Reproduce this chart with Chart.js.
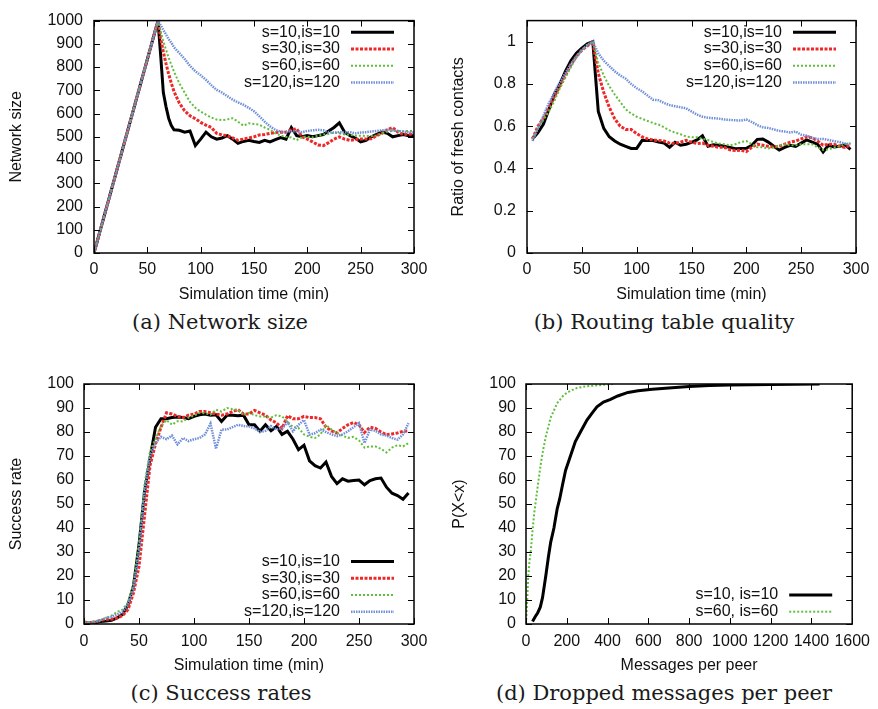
<!DOCTYPE html>
<html>
<head>
<meta charset="utf-8">
<script src="https://cdn.jsdelivr.net/npm/chart.js@4.4.1/dist/chart.umd.min.js"></script>
<style>
  body { margin: 0; background: #fff; width: 878px; height: 709px; position: relative; overflow: hidden; }
  canvas { position: absolute; }
  .cap { position: absolute; width: 400px; text-align: center; font-family: "DejaVu Serif", serif; font-size: 21px; line-height: 24px; color: #1a1a1a; }
</style>
</head>
<body>
<canvas id="cA" width="439" height="310" style="left:0;top:0"></canvas>
<canvas id="cB" width="439" height="310" style="left:439px;top:0"></canvas>
<canvas id="cC" width="439" height="325" style="left:0;top:355px"></canvas>
<canvas id="cD" width="439" height="325" style="left:439px;top:355px"></canvas>
<div class="cap" style="left:20px;top:310px">(a) Network size</div>
<div class="cap" style="left:464px;top:310px">(b) Routing table quality</div>
<div class="cap" style="left:21px;top:681px">(c) Success rates</div>
<div class="cap" style="left:464px;top:681px">(d) Dropped messages per peer</div>
<script>
// ---- data ----
const labels4 = ['s=10,is=10', 's=30,is=30', 's=60,is=60', 's=120,is=120'];
const labels2 = ['s=10, is=10', 's=60, is=60'];

const ticksTime = [0, 50, 100, 150, 200, 250, 300];
const ticksSize = [0, 100, 200, 300, 400, 500, 600, 700, 800, 900, 1000];
const ticksRatio = [0, 0.2, 0.4, 0.6, 0.8, 1];
const ticksPct = [0, 10, 20, 30, 40, 50, 60, 70, 80, 90, 100];
const ticksMsg = [0, 200, 400, 600, 800, 1000, 1200, 1400, 1600];

// (a) network size
const timeA = [0, 60, 62.5, 65, 67.5, 70, 72.5, 75, 80, 85,
  90, 95, 100, 105, 110, 115, 120, 125, 130, 135,
  140, 145, 150, 155, 160, 165, 170, 175, 180, 185,
  190, 195, 200, 205, 210, 215, 220, 225, 230, 235,
  240, 245, 250, 255, 260, 265, 270, 275, 280, 285,
  290, 295, 300];
const sizeS10 = [0, 1000, 850, 690, 630, 580, 548, 530, 528, 520,
  525, 462, 490, 520, 500, 490, 495, 505, 490, 472,
  480, 485, 480, 476, 485, 478, 488, 497, 490, 540,
  505, 500, 505, 500, 505, 510, 525, 540, 560, 520,
  505, 495, 478, 485, 500, 510, 520, 515, 500, 505,
  510, 505, 505];
const sizeS30 = [0, 1000, 925, 865, 815, 770, 730, 695, 645, 612,
  590, 578, 562, 550, 540, 515, 508, 505, 495, 485,
  490, 495, 500, 508, 510, 515, 518, 520, 520, 530,
  535, 500, 490, 478, 465, 462, 475, 490, 500, 490,
  485, 488, 490, 490, 492, 505, 515, 530, 540, 520,
  510, 512, 510];
const sizeS60 = [0, 1000, 955, 910, 875, 840, 810, 780, 730, 690,
  650, 625, 608, 595, 583, 574, 572, 575, 580, 565,
  548, 558, 555, 552, 540, 530, 515, 505, 500, 497,
  485, 500, 500, 498, 505, 510, 512, 518, 515, 510,
  508, 505, 505, 503, 503, 505, 515, 522, 525, 525,
  524, 525, 525];
const sizeS120 = [0, 1000, 980, 960, 940, 920, 905, 885, 860, 835,
  805, 782, 765, 745, 722, 702, 690, 675, 660, 648,
  638, 625, 610, 588, 565, 545, 530, 522, 520, 525,
  522, 520, 525, 528, 530, 528, 520, 518, 520, 518,
  520, 515, 518, 520, 523, 525, 528, 530, 528, 525,
  522, 520, 518];

// (b) ratio of fresh contacts
const timeB = [5, 10, 15, 20, 25, 30, 35, 40, 45, 50,
  55, 60, 65, 70, 75, 80, 85, 90, 95, 100,
  105, 110, 115, 120, 125, 130, 135, 140, 145, 150,
  155, 160, 165, 170, 175, 180, 185, 190, 195, 200,
  205, 210, 215, 220, 225, 230, 235, 240, 245, 250,
  255, 260, 265, 270, 275, 280, 285, 290, 295];
const freshS10 = [0.54, 0.57, 0.61, 0.68, 0.75, 0.80, 0.86, 0.91, 0.945, 0.97,
  0.99, 1.0, 0.67, 0.59, 0.55, 0.53, 0.515, 0.505, 0.495, 0.495,
  0.533, 0.532, 0.532, 0.525, 0.52, 0.50, 0.524, 0.51, 0.515, 0.524,
  0.535, 0.555, 0.505, 0.512, 0.51, 0.505, 0.50, 0.494, 0.495, 0.496,
  0.51, 0.538, 0.54, 0.525, 0.505, 0.487, 0.50, 0.51, 0.505, 0.52,
  0.535, 0.525, 0.515, 0.478, 0.51, 0.502, 0.505, 0.512, 0.49];
const freshS30 = [0.54, 0.60, 0.64, 0.69, 0.74, 0.79, 0.84, 0.89, 0.93, 0.96,
  0.98, 1.0, 0.85, 0.76, 0.69, 0.635, 0.60, 0.585, 0.585, 0.565,
  0.55, 0.54, 0.535, 0.532, 0.53, 0.52, 0.518, 0.525, 0.533, 0.525,
  0.518, 0.52, 0.51, 0.505, 0.50, 0.50, 0.488, 0.485, 0.487, 0.48,
  0.50, 0.515, 0.51, 0.505, 0.502, 0.505, 0.515, 0.525, 0.53, 0.54,
  0.55, 0.545, 0.53, 0.51, 0.515, 0.515, 0.505, 0.50, 0.51];
const freshS60 = [0.54, 0.59, 0.63, 0.67, 0.72, 0.78, 0.83, 0.88, 0.925, 0.96,
  0.985, 1.0, 0.90, 0.84, 0.79, 0.75, 0.715, 0.68, 0.66, 0.645,
  0.635, 0.625, 0.615, 0.608, 0.595, 0.58, 0.57, 0.562, 0.552, 0.548,
  0.548, 0.54, 0.535, 0.525, 0.518, 0.515, 0.51, 0.515, 0.525, 0.53,
  0.515, 0.50, 0.50, 0.495, 0.50, 0.51, 0.515, 0.51, 0.51, 0.515,
  0.515, 0.515, 0.50, 0.488, 0.49, 0.50, 0.505, 0.515, 0.52];
const freshS120 = [0.53, 0.59, 0.65, 0.71, 0.76, 0.81, 0.85, 0.895, 0.93, 0.96,
  0.985, 1.0, 0.945, 0.91, 0.885, 0.86, 0.84, 0.825, 0.80, 0.78,
  0.765, 0.745, 0.725, 0.723, 0.71, 0.70, 0.695, 0.69, 0.685, 0.67,
  0.655, 0.645, 0.64, 0.638, 0.636, 0.632, 0.63, 0.628, 0.627, 0.632,
  0.62, 0.605, 0.595, 0.592, 0.585, 0.578, 0.575, 0.57, 0.575, 0.56,
  0.555, 0.545, 0.54, 0.54, 0.535, 0.53, 0.525, 0.518, 0.515];

// (c) success rate
const timeC = [0, 5, 10, 15, 20, 25, 30, 35, 40, 45,
  50, 55, 60, 65, 70, 75, 80, 85, 90, 95,
  100, 105, 110, 115, 120, 125, 130, 135, 140, 145,
  150, 155, 160, 165, 170, 175, 180, 185, 190, 195,
  200, 205, 210, 215, 220, 225, 230, 235, 240, 245,
  250, 255, 260, 265, 270, 275, 280, 285, 290, 295];
const succS10 = [0.5, 0.3, 0.5, 1, 1.2, 1.5, 2.5, 4, 8, 16,
  33, 55, 69, 82, 85.5, 85.5, 86, 86.2, 86, 85.5,
  86.5, 87.2, 87.5, 87, 87.2, 84.4, 87, 87, 86.8, 87,
  83, 83, 80.3, 83, 80.5, 82.3, 79, 80.3, 77, 72.6,
  74.5, 68, 66, 65, 67.5, 61.5, 58.5, 60.5, 59.5, 59.8,
  60, 58, 59.8, 60.5, 60.8, 57, 54.5, 53.5, 52, 54.6];
const succS30 = [0.8, 0.5, 0.8, 1.5, 2, 2, 2.5, 3.5, 6, 13,
  24, 45, 66, 75, 82, 88, 87.5, 86.5, 86, 87,
  87.5, 88.5, 88.5, 88, 87.5, 87, 87.5, 88.5, 89.3, 87.5,
  87.5, 89, 88, 87, 85, 83.8, 81.5, 86.8, 85.5, 85.5,
  86.5, 86, 86, 85.5, 82, 80.5, 79.6, 81.5, 83, 84,
  83, 79.8, 82, 81.5, 80, 78.9, 79.2, 79.6, 80.3, 80.5];
const succS60 = [0.5, 0.8, 1.2, 1.5, 2.5, 3.5, 5, 6, 9, 17,
  34, 58, 72, 77, 82.5, 85, 83, 84.5, 84.4, 86,
  86.8, 88, 87.8, 87.2, 89.3, 88.5, 90, 89.5, 89.3, 87,
  88, 87, 86.5, 86.5, 86, 87, 86.5, 84.4, 82, 81.7,
  79, 78, 77.5, 79, 83, 81, 79.6, 78.5, 77.5, 78,
  76.5, 73.5, 74, 74, 73, 71.5, 73.5, 74.5, 74, 75.4];
const succS120 = [0.8, 0.3, 0.8, 1.5, 2.5, 3, 4, 5, 8, 15,
  30, 55, 70, 75.5, 78, 77, 78.5, 74.8, 77.5, 76.2,
  77, 77.5, 79, 83.5, 73, 81, 81, 82, 83, 82.5,
  82.3, 81.5, 80, 80.5, 82.5, 81, 81.5, 84, 80.3, 83,
  85, 78.9, 79.5, 81, 80, 79, 78.3, 79, 80.3, 82,
  83.7, 75.4, 81, 80.5, 79, 78.5, 77.5, 76.8, 79, 83.7];

// (d) dropped messages per peer (CDF)
const msgS10 = [32, 45, 57, 70, 81, 97, 110, 121, 137, 153, 165, 178, 194, 218, 242, 267,
  299, 325, 348, 380, 412, 450, 500, 550, 620, 700, 800, 900, 1000, 1200, 1440];
const cdfS10 = [1, 3, 4.6, 7, 11, 20, 28, 34, 40, 48, 52, 57.5, 64, 70, 76, 80,
  85, 88, 90.5, 92.5, 93.5, 95, 96.5, 97.2, 97.8, 98.3, 99, 99.4, 99.6, 99.8, 100];
const msgS60 = [0, 3, 6, 11, 17, 24, 32, 40, 57, 73, 85, 97, 121, 153, 186, 220, 250, 290, 331, 380, 436];
const cdfS60 = [0, 5, 10, 20, 26, 31, 39, 46, 57, 67, 73, 78, 86, 92, 95.5, 97.3, 98.3, 99, 99.3, 99.7, 100];

// ---- styles ----
const styles = [
  { borderColor: '#000000', borderWidth: 3, borderDash: [] },
  { borderColor: '#ee2828', borderWidth: 3, borderDash: [3, 1.5] },
  { borderColor: '#5fbf3a', borderWidth: 2, borderDash: [2, 2] },
  { borderColor: '#7090d8', borderWidth: 2.5, borderDash: [1.5, 1] }
];

Chart.defaults.font.family = '"Liberation Sans", Arial, sans-serif';
Chart.defaults.font.size = 16;
Chart.defaults.color = '#111';

function series(xs, ys, label, st, n) {
  return Object.assign({
    label: label,
    data: xs.map((x, i) => ({ x: x, y: ys[i] })),
    pointRadius: 0, tension: 0, fill: false, order: n
  }, st);
}

// gnuplot-like frame, inward tick marks and in-plot key
const frame = {
  id: 'frame',
  afterDatasetsDraw(chart, args, opts) {
    const { ctx, chartArea: a, scales: { x, y } } = chart;
    ctx.save();
    ctx.strokeStyle = '#000';
    ctx.lineWidth = 1;
    ctx.setLineDash([]);
    const t = 6;
    ctx.beginPath();
    x.ticks.forEach(tk => {
      const px = Math.round(x.getPixelForValue(tk.value)) + 0.5;
      ctx.moveTo(px, a.bottom); ctx.lineTo(px, a.bottom - t);
      ctx.moveTo(px, a.top); ctx.lineTo(px, a.top + t);
    });
    y.ticks.forEach(tk => {
      const py = Math.round(y.getPixelForValue(tk.value)) + 0.5;
      ctx.moveTo(a.left, py); ctx.lineTo(a.left + t, py);
      ctx.moveTo(a.right, py); ctx.lineTo(a.right - t, py);
    });
    ctx.stroke();
    ctx.lineWidth = 1.5;
    ctx.strokeRect(a.left, a.top, a.right - a.left, a.bottom - a.top);

    const sets = chart.data.datasets;
    ctx.font = '16px "Liberation Sans", Arial, sans-serif';
    ctx.textAlign = 'right';
    ctx.textBaseline = 'middle';
    ctx.fillStyle = '#111';
    sets.forEach((ds, i) => {
      const ry = opts.pos === 'top' ? a.top + 11.7 + i * 16.7
                                    : a.bottom - 12.3 - (sets.length - 1 - i) * 16.7;
      ctx.fillText(ds.label, a.right - 74, ry);
      ctx.strokeStyle = ds.borderColor;
      ctx.lineWidth = ds.borderWidth;
      ctx.setLineDash(ds.borderDash || []);
      ctx.beginPath();
      ctx.moveTo(a.right - 63, ry);
      ctx.lineTo(a.right - 20, ry);
      ctx.stroke();
    });
    ctx.restore();
  }
};

function makeChart(id, c) {
  return new Chart(document.getElementById(id), {
    type: 'line',
    data: { datasets: c.datasets },
    options: {
      responsive: false,
      animation: false,
      devicePixelRatio: 1,
      layout: { padding: c.padding },
      plugins: { legend: { display: false }, tooltip: { enabled: false }, frame: { pos: c.legend } },
      scales: {
        x: {
          type: 'linear', min: c.x.min, max: c.x.max,
          afterBuildTicks: s => { s.ticks = c.x.ticks.map(v => ({ value: v })); },
          afterFit: s => { s.height = c.x.h; },
          grid: { display: false, drawTicks: false },
          border: { display: false },
          ticks: { padding: c.x.pad, maxRotation: 0, autoSkip: false, callback: v => String(v) },
          title: { display: true, text: c.x.title, padding: { top: 0, bottom: c.x.titlePad } }
        },
        y: {
          type: 'linear', min: c.y.min, max: c.y.max,
          afterBuildTicks: s => { s.ticks = c.y.ticks.map(v => ({ value: v })); },
          afterFit: s => { s.width = c.y.w; },
          grid: { display: false, drawTicks: false },
          border: { display: false },
          ticks: { padding: c.y.pad, autoSkip: false, callback: v => String(v) },
          title: { display: true, text: c.y.title, padding: { top: c.y.titlePad, bottom: 0 } }
        }
      }
    },
    plugins: [frame]
  });
}

makeChart('cA', {
  datasets: [
    series(timeA, sizeS10, labels4[0], styles[0], 3),
    series(timeA, sizeS30, labels4[1], styles[1], 2),
    series(timeA, sizeS60, labels4[2], styles[2], 1),
    series(timeA, sizeS120, labels4[3], styles[3], 0)
  ],
  padding: { top: 13, right: 25, left: 0, bottom: 0 },
  legend: 'top',
  x: { min: 0, max: 300, ticks: ticksTime, title: 'Simulation time (min)', h: 57, pad: 7, titlePad: 6 },
  y: { min: 0, max: 1000, ticks: ticksSize, title: 'Network size', w: 94, pad: 11, titlePad: 7 }
});

makeChart('cB', {
  datasets: [
    series(timeB, freshS10, labels4[0], styles[0], 3),
    series(timeB, freshS30, labels4[1], styles[1], 2),
    series(timeB, freshS60, labels4[2], styles[2], 1),
    series(timeB, freshS120, labels4[3], styles[3], 0)
  ],
  padding: { top: 14, right: 22, left: 0, bottom: 0 },
  legend: 'top',
  x: { min: 0, max: 300, ticks: ticksTime, title: 'Simulation time (min)', h: 57, pad: 7, titlePad: 6 },
  y: { min: 0, max: 1.1, ticks: ticksRatio, title: 'Ratio of fresh contacts', w: 88, pad: 11, titlePad: 10 }
});

makeChart('cC', {
  datasets: [
    series(timeC, succS10, labels4[0], styles[0], 3),
    series(timeC, succS30, labels4[1], styles[1], 2),
    series(timeC, succS60, labels4[2], styles[2], 1),
    series(timeC, succS120, labels4[3], styles[3], 0)
  ],
  padding: { top: 29, right: 25, left: 0, bottom: 0 },
  legend: 'bottom',
  x: { min: 0, max: 300, ticks: ticksTime, title: 'Simulation time (min)', h: 56, pad: 8, titlePad: 4.5 },
  y: { min: 0, max: 100, ticks: ticksPct, title: 'Success rate', w: 84, pad: 10, titlePad: 6.5 }
});

makeChart('cD', {
  datasets: [
    series(msgS10, cdfS10, labels2[0], styles[0], 1),
    series(msgS60, cdfS60, labels2[1], styles[2], 0)
  ],
  padding: { top: 29, right: 22, left: 0, bottom: 0 },
  legend: 'bottom',
  x: { min: 0, max: 1600, ticks: ticksMsg, title: 'Messages per peer', h: 56, pad: 8, titlePad: 4.5 },
  y: { min: 0, max: 100, ticks: ticksPct, title: 'P(X<x)', w: 87, pad: 10, titlePad: 11 }
});
</script>
</body>
</html>
